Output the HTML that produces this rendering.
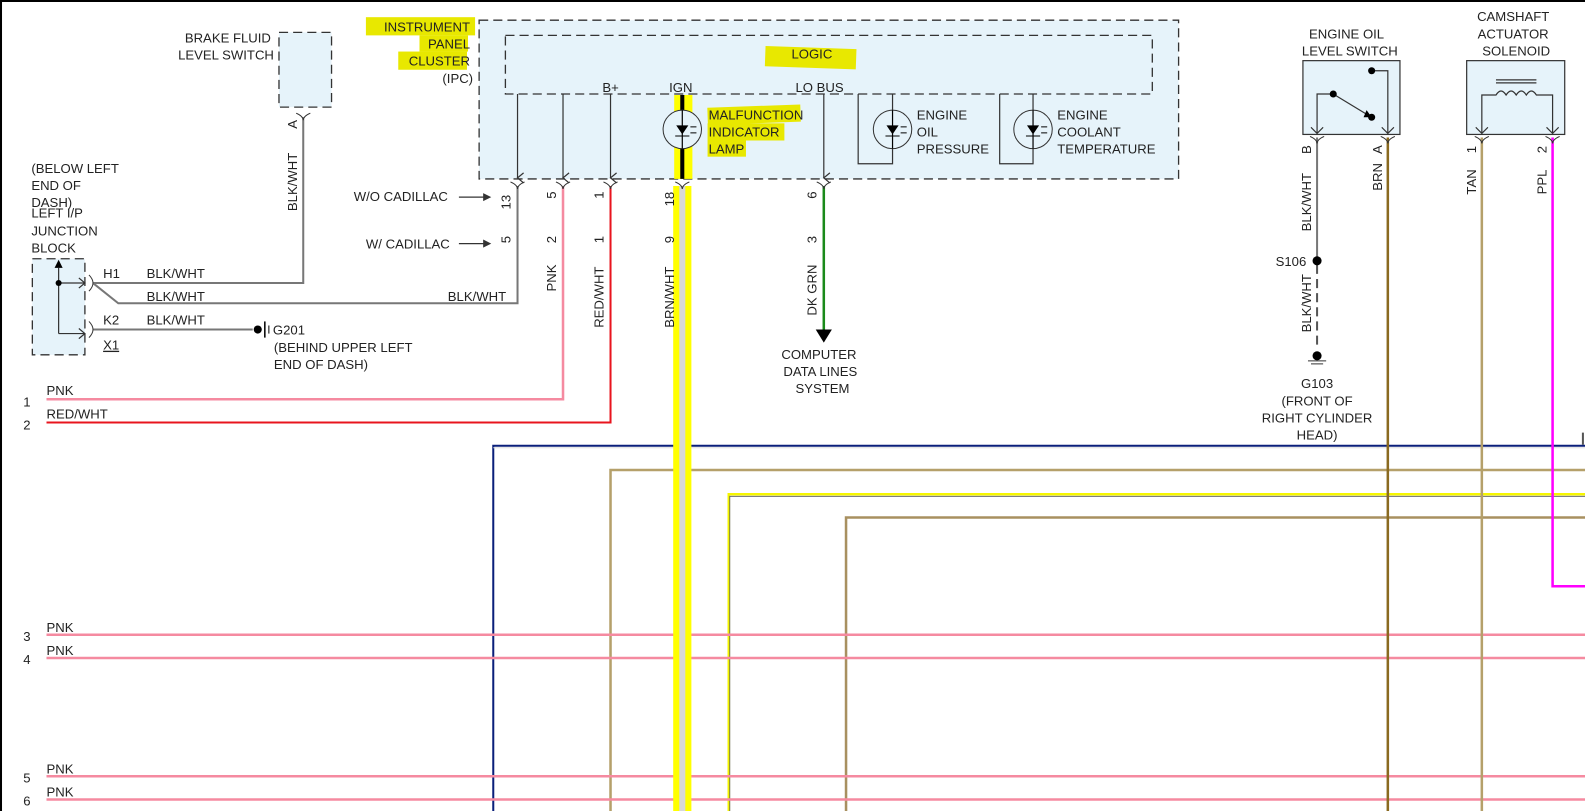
<!DOCTYPE html>
<html><head><meta charset="utf-8"><style>
html,body{margin:0;padding:0;background:#fff;overflow:hidden;}
svg{display:block;}
text{font-family:"Liberation Sans",Arial,sans-serif;font-size:13px;fill:#222;}
</style></head><body>
<svg width="1585" height="811" viewBox="0 0 1585 811" xmlns="http://www.w3.org/2000/svg">
<defs>
<marker id="ar" markerWidth="12" markerHeight="12" refX="6" refY="10" orient="auto" markerUnits="userSpaceOnUse">
<path d="M1,4 L6,10 L11,4" fill="none" stroke="#333" stroke-width="1.2"/></marker>
</defs>
<rect x="0" y="0" width="1585" height="811" fill="#fff"/>
<g transform="scale(1.0108)">
<line x1="1" y1="0" x2="1" y2="811" stroke="#000" stroke-width="2"/>
<line x1="0" y1="1" x2="1585" y2="1" stroke="#000" stroke-width="2"/>

<g fill="none">
<path d="M488,811 V441 H1585" stroke="#0a1f7a" stroke-width="2"/>
<line x1="488" y1="443" x2="1585" y2="443" stroke="#ddd" stroke-width="1"/>
<path d="M604,811 V465 H1585" stroke="#b5a06a" stroke-width="2.5"/>
<path d="M721,811 V489 H1585" stroke="#f5f500" stroke-width="2.5"/>
<path d="M722,811 V491 H1585" stroke="#555" stroke-width="0.8"/>
<path d="M837,811 V512 H1585" stroke="#a89060" stroke-width="2.5"/>
<line x1="46" y1="628" x2="1585" y2="628" stroke="#f58aa0" stroke-width="2.5"/>
<line x1="46" y1="651" x2="1585" y2="651" stroke="#f58aa0" stroke-width="2.5"/>
<line x1="46" y1="768" x2="1585" y2="768" stroke="#f58aa0" stroke-width="2.5"/>
<line x1="46" y1="791" x2="1585" y2="791" stroke="#f58aa0" stroke-width="2.5"/>
<path d="M557,184 V395 H46" stroke="#f58aa0" stroke-width="2.5"/>
<path d="M604,184 V418 H46" stroke="#e8141e" stroke-width="2"/>
<path d="M512,184 V300 H117 L92,280" stroke="#777" stroke-width="2"/>
<path d="M300,116 V280 H92" stroke="#777" stroke-width="2"/>
<path d="M92,326 H250" stroke="#777" stroke-width="2"/>
<line x1="815" y1="184" x2="815" y2="328" stroke="#1a8a1a" stroke-width="2.5"/>
<line x1="1373" y1="136" x2="1373" y2="811" stroke="#8a6a20" stroke-width="2.5"/>
<line x1="1466" y1="136" x2="1466" y2="811" stroke="#b5a06a" stroke-width="2.5"/>
<path d="M1536,136 V580 H1585" stroke="#ff00ff" stroke-width="2.5"/>
<line x1="1303" y1="136" x2="1303" y2="255" stroke="#777" stroke-width="2"/>
<line x1="1303" y1="262" x2="1303" y2="345" stroke="#555" stroke-width="2" stroke-dasharray="9,5"/>
</g>
<polygon points="807,326 823,326 815,339" fill="#000"/>
<rect x="666" y="184" width="18" height="627" fill="#ffff00"/>
<rect x="672" y="184" width="6" height="627" fill="#d8d8d8"/>

<rect x="474" y="20" width="692" height="157" fill="#e6f3fa" stroke="#333" stroke-width="1.3" stroke-dasharray="9,5"/>
<rect x="500" y="35" width="640" height="58" fill="none" stroke="#333" stroke-width="1.3" stroke-dasharray="9,5"/>
<rect x="757" y="47" width="90" height="20" fill="#e8e800" transform="rotate(2 800 57)"/>
<text x="783" y="58">LOGIC</text>
<g stroke="#333" stroke-width="1.2" fill="none">
<line x1="512" y1="93" x2="512" y2="176" marker-end="url(#ar)"/>
<line x1="557" y1="93" x2="557" y2="176" marker-end="url(#ar)"/>
<line x1="604" y1="93" x2="604" y2="176" marker-end="url(#ar)"/>
<line x1="815" y1="93" x2="815" y2="176" marker-end="url(#ar)"/>
<path d="M849,93 V162 H883 V93"/>
<path d="M989,93 V162 H1022 V93"/>
</g>
<text x="596" y="91">B+</text><text x="662" y="91">IGN</text><text x="787" y="91">LO BUS</text>
<rect x="667" y="94" width="18" height="83" fill="#ffff00"/>
<line x1="675" y1="94" x2="675" y2="177" stroke="#000" stroke-width="4"/>
<g fill="none" stroke="#333" stroke-width="1">
<circle cx="675" cy="128" r="19" fill="#e6f3fa"/>
<circle cx="883" cy="128" r="19" fill="#e6f3fa"/>
<circle cx="1022" cy="128" r="19" fill="#e6f3fa"/>
</g>
<g stroke="#000" stroke-width="1.2">
<line x1="675" y1="109" x2="675" y2="147"/><line x1="883" y1="109" x2="883" y2="147"/><line x1="1022" y1="109" x2="1022" y2="147"/>
</g>
<g fill="#000">
<path d="M669,124 H681 L675,133 Z M668,134 H682 V135 H668Z M683,125 h6 v1 h-6z M683,131 h6 v1 h-6z"/>
<path d="M877,124 H889 L883,133 Z M876,134 H890 V135 H876Z M891,125 h6 v1 h-6z M891,131 h6 v1 h-6z"/>
<path d="M1016,124 H1028 L1022,133 Z M1015,134 H1029 V135 H1015Z M1030,125 h6 v1 h-6z M1030,131 h6 v1 h-6z"/>
</g>
<g fill="#e8e800">
<rect x="700" y="105" width="92" height="17" transform="rotate(-2 745 113)"/>
<rect x="700" y="122" width="76" height="17"/>
<rect x="700" y="139" width="38" height="16"/>
</g>
<text x="701" y="118">MALFUNCTION</text><text x="701" y="135">INDICATOR</text><text x="701" y="152">LAMP</text>
<text x="907" y="118">ENGINE</text><text x="907" y="135">OIL</text><text x="907" y="152">PRESSURE</text>
<text x="1046" y="118">ENGINE</text><text x="1046" y="135">COOLANT</text><text x="1046" y="152">TEMPERATURE</text>
<g fill="#e8e800">
<rect x="362" y="17" width="108" height="18"/>
<rect x="415" y="35" width="48" height="16"/>
<rect x="394" y="51" width="68" height="18"/>
</g>
<g text-anchor="end"><text x="465" y="31">INSTRUMENT</text><text x="465" y="48">PANEL</text><text x="465" y="65">CLUSTER</text><text x="468" y="82">(IPC)</text></g>

<g fill="none" stroke="#333" stroke-width="1">
<path d="M505,180 q7,3 7,7 q0,-4 7,-7"/><path d="M550,180 q7,3 7,7 q0,-4 7,-7"/><path d="M597,180 q7,3 7,7 q0,-4 7,-7"/>
<path d="M668,180 q7,3 7,7 q0,-4 7,-7"/><path d="M808,180 q7,3 7,7 q0,-4 7,-7"/>
<path d="M293,112 q7,3 7,7 q0,-4 7,-7"/>
<path d="M1296,135 q7,3 7,7 q0,-4 7,-7"/><path d="M1366,135 q7,3 7,7 q0,-4 7,-7"/>
<path d="M1459,135 q7,3 7,7 q0,-4 7,-7"/><path d="M1529,135 q7,3 7,7 q0,-4 7,-7"/>
<path d="M88,272 q4,4 4,8 q0,4 -4,8 M88,318 q4,4 4,8 q0,4 -4,8"/>
</g>
<g>
<text transform="translate(505,200) rotate(-90)" text-anchor="middle">13</text>
<text transform="translate(550,193) rotate(-90)" text-anchor="middle">5</text>
<text transform="translate(597,193) rotate(-90)" text-anchor="middle">1</text>
<text transform="translate(667,197) rotate(-90)" text-anchor="middle">18</text>
<text transform="translate(808,193) rotate(-90)" text-anchor="middle">6</text>
<text transform="translate(505,237) rotate(-90)" text-anchor="middle">5</text>
<text transform="translate(550,237) rotate(-90)" text-anchor="middle">2</text>
<text transform="translate(597,237) rotate(-90)" text-anchor="middle">1</text>
<text transform="translate(667,237) rotate(-90)" text-anchor="middle">9</text>
<text transform="translate(808,237) rotate(-90)" text-anchor="middle">3</text>
<text transform="translate(550,275) rotate(-90)" text-anchor="middle">PNK</text>
<text transform="translate(597,294) rotate(-90)" text-anchor="middle">RED/WHT</text>
<text transform="translate(667,294) rotate(-90)" text-anchor="middle">BRN/WHT</text>
<text transform="translate(808,287) rotate(-90)" text-anchor="middle">DK GRN</text>
<text transform="translate(294,123) rotate(-90)" text-anchor="middle">A</text>
<text transform="translate(294,180) rotate(-90)" text-anchor="middle">BLK/WHT</text>
<text transform="translate(1297,148) rotate(-90)" text-anchor="middle">B</text>
<text transform="translate(1367,148) rotate(-90)" text-anchor="middle">A</text>
<text transform="translate(1460,148) rotate(-90)" text-anchor="middle">1</text>
<text transform="translate(1530,148) rotate(-90)" text-anchor="middle">2</text>
<text transform="translate(1297,200) rotate(-90)" text-anchor="middle">BLK/WHT</text>
<text transform="translate(1367,175) rotate(-90)" text-anchor="middle">BRN</text>
<text transform="translate(1460,180) rotate(-90)" text-anchor="middle">TAN</text>
<text transform="translate(1530,180) rotate(-90)" text-anchor="middle">PPL</text>
<text transform="translate(1297,300) rotate(-90)" text-anchor="middle">BLK/WHT</text>
</g>
<text x="773" y="355">COMPUTER</text><text x="775" y="372">DATA LINES</text><text x="787" y="389">SYSTEM</text>
<text x="350" y="199">W/O CADILLAC</text><text x="362" y="246">W/ CADILLAC</text>
<g stroke="#333" stroke-width="1.3"><line x1="454" y1="195" x2="482" y2="195"/><line x1="454" y1="241" x2="482" y2="241"/></g>
<polygon points="478,191 486,195 478,199" fill="#333"/><polygon points="478,237 486,241 478,245" fill="#333"/>

<rect x="276" y="32" width="52" height="74" fill="#e6f3fa" stroke="#333" stroke-width="1.3" stroke-dasharray="9,5"/>
<g text-anchor="end"><text x="268" y="42">BRAKE FLUID</text><text x="271" y="59">LEVEL SWITCH</text></g>
<rect x="32" y="256" width="52" height="95" fill="#e6f3fa" stroke="#333" stroke-width="1.3" stroke-dasharray="9,5"/>
<g stroke="#333" stroke-width="1.2" fill="none">
<line x1="58" y1="265" x2="58" y2="330"/><line x1="58" y1="280" x2="84" y2="280"/><line x1="58" y1="330" x2="84" y2="330"/>
<path d="M78,275 L84,280 L78,285 M78,325 L84,330 L78,335"/>
</g>
<polygon points="54,265 62,265 58,257" fill="#000"/>
<circle cx="58" cy="280" r="3" fill="#000"/>
<text x="31" y="171">(BELOW LEFT</text><text x="31" y="188">END OF</text><text x="31" y="205">DASH)</text>
<text x="31" y="215">LEFT I/P</text><text x="31" y="233">JUNCTION</text><text x="31" y="250">BLOCK</text>
<text x="102" y="275">H1</text><text x="102" y="321">K2</text><text x="102" y="346" text-decoration="underline">X1</text>
<text x="145" y="275">BLK/WHT</text><text x="145" y="298">BLK/WHT</text><text x="145" y="321">BLK/WHT</text><text x="443" y="298">BLK/WHT</text>
<circle cx="255" cy="326" r="4" fill="#000"/>
<line x1="262" y1="318" x2="262" y2="334" stroke="#000" stroke-width="1.5"/>
<line x1="266" y1="322" x2="266" y2="330" stroke="#000" stroke-width="1"/>
<text x="270" y="331">G201</text><text x="271" y="348">(BEHIND UPPER LEFT</text><text x="271" y="365">END OF DASH)</text>
<text x="23" y="402">1</text><text x="23" y="425">2</text><text x="46" y="391">PNK</text><text x="46" y="414">RED/WHT</text>
<text x="23" y="634">3</text><text x="23" y="657">4</text><text x="23" y="774">5</text><text x="23" y="797">6</text>
<text x="46" y="625">PNK</text><text x="46" y="648">PNK</text><text x="46" y="765">PNK</text><text x="46" y="788">PNK</text>

<!-- engine oil level switch -->
<rect x="1289" y="60" width="96" height="73" fill="#e6f3fa" stroke="#333" stroke-width="1.2"/>
<text x="1295" y="38">ENGINE OIL</text><text x="1288" y="55">LEVEL SWITCH</text>
<g stroke="#333" stroke-width="1.2" fill="none">
<path d="M1319,93 H1303 V132"/>
<path d="M1357,70 H1373 V132"/>
<path d="M1297,126 L1303,132 L1309,126 M1367,126 L1373,132 L1379,126"/>
<line x1="1319" y1="93" x2="1352" y2="113"/>
</g>
<polygon points="1352,109 1357,116 1349,116" fill="#000"/>
<circle cx="1319" cy="93" r="3.5" fill="#000"/><circle cx="1357" cy="116" r="3.5" fill="#000"/><circle cx="1357" cy="70" r="3.5" fill="#000"/>
<circle cx="1303" cy="258" r="4.5" fill="#000"/><text x="1262" y="263">S106</text>
<circle cx="1303" cy="352" r="4.5" fill="#000"/><line x1="1294" y1="357" x2="1312" y2="357" stroke="#333"/><line x1="1297" y1="360" x2="1309" y2="360" stroke="#333"/>
<g text-anchor="middle"><text x="1303" y="384">G103</text><text x="1303" y="401">(FRONT OF</text><text x="1303" y="418">RIGHT CYLINDER</text><text x="1303" y="435">HEAD)</text></g>
<!-- camshaft solenoid -->
<rect x="1451" y="60" width="97" height="73" fill="#e6f3fa" stroke="#333" stroke-width="1.2"/>
<g text-anchor="middle"><text x="1497" y="21">CAMSHAFT</text><text x="1497" y="38">ACTUATOR</text><text x="1500" y="55">SOLENOID</text></g>
<g stroke="#333" stroke-width="1.2" fill="none">
<path d="M1466,132 V94 H1480 q5,-8 10,0 q5,-8 10,0 q5,-8 10,0 q5,-8 10,0 H1536 V132"/>
<line x1="1480" y1="79" x2="1520" y2="79"/><line x1="1480" y1="82" x2="1520" y2="82"/>
<path d="M1460,126 L1466,132 L1472,126 M1530,126 L1536,132 L1542,126"/>
</g>
<rect x="1565" y="428" width="2" height="12" fill="#555"/>
</g>
</svg>
</body></html>
